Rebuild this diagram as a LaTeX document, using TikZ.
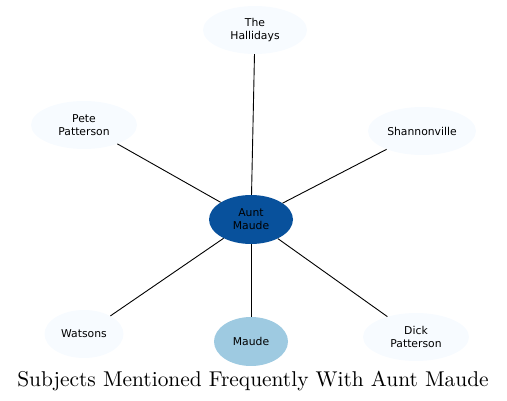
\documentclass[tikz,border=0pt]{standalone}
\usepackage{fontspec}
\newfontfamily\nodefont{DejaVu Sans}
\newfontfamily\titlefont{lmroman10-regular}[Extension=.otf]
\usetikzlibrary{shapes.geometric}
\definecolor{lightblue}{HTML}{F7FBFF}
\definecolor{darkblue}{HTML}{08519C}
\definecolor{midblue}{HTML}{9ECAE1}
\tikzset{
  topic/.style={ellipse, fill=lightblue, inner sep=0pt, minimum height=48pt, align=center, font=\nodefont\fontsize{10.8}{12.8}\selectfont},
  hub/.style={topic, fill=darkblue},
  self/.style={topic, fill=midblue},
  link/.style={draw=black, line width=0.9pt}
}
\begin{document}
\begin{tikzpicture}[x=1pt,y=-1pt]
\useasboundingbox (0,0) rectangle (507,401);
\node[hub, minimum width=84pt, minimum height=49pt] (aunt) at (251,219.5) {Aunt\\Maude};
\node[topic, minimum width=104pt] (hall) at (255,30) {The\\Hallidays};
\node[topic, minimum width=106pt] (pete) at (84,125) {Pete\\Patterson};
\node[topic, minimum width=108pt] (shan) at (422,131) {Shannonville};
\node[topic, minimum width=79pt] (wats) at (84,334) {Watsons};
\node[self, minimum width=74pt, minimum height=49pt] (maude) at (251,341.5) {Maude};
\node[topic, minimum width=106pt] (dick) at (416,337) {Dick\\Patterson};
\draw[link] (aunt) -- (hall);
\draw[link] (aunt) -- (pete);
\draw[link] (aunt) -- (shan);
\draw[link] (aunt) -- (wats);
\draw[link] (aunt) -- (maude);
\draw[link] (aunt) -- (dick);
\node[anchor=base, inner sep=0pt, font=\titlefont\fontsize{21.4}{25}\selectfont] (title) at (253,387) {Subjects Mentioned Frequently With Aunt Maude};
\end{tikzpicture}
\end{document}
